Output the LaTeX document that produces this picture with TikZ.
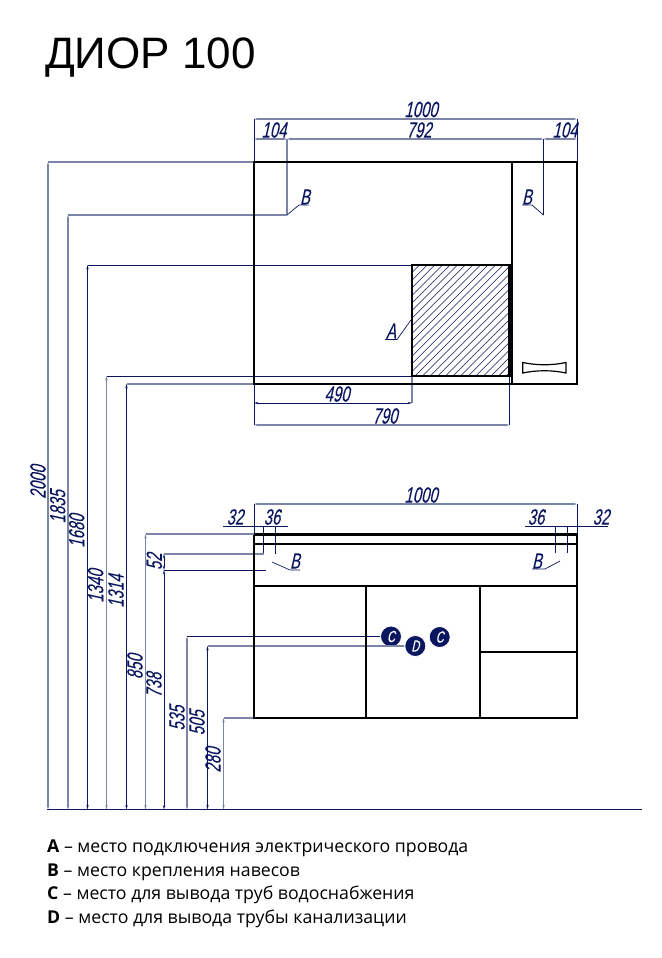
\documentclass[tikz,border=0pt]{standalone}
\usepackage{fontspec}
\setmainfont{Open Sans}
\newfontfamily\dimfont[FakeStretch=0.68,FakeSlant=0.22,FakeBold=0.08]{Liberation Sans}
\newfontfamily\titlefont{Liberation Sans}
\usetikzlibrary{arrows.meta}
\definecolor{navy}{HTML}{0B1660}
\definecolor{soft}{HTML}{7C85A8}
\tikzset{
  thinline/.style={draw=navy,line width=0.7pt},
  softline/.style={draw=soft,line width=1.1pt},
  dimboth/.style={{Stealth[length=4.5pt,width=2.4pt,fill=navy]}-{Stealth[length=4.5pt,width=2.4pt,fill=navy]}},
  body/.style={draw=black,line width=2.7pt,line cap=rect},
  bodythin/.style={draw=black,line width=2.2pt},
  dimlabel/.style={text=navy,font=\dimfont\fontsize{22}{22}\selectfont,inner sep=0pt},
  vlabel/.style={dimlabel,rotate=90},
  ball/.style={circle,fill=navy,draw=white,line width=0.8pt,minimum size=21pt,inner sep=0pt,text=white,font=\dimfont\fontsize{16}{16}\selectfont},
  legend/.style={anchor=base west,inner sep=0pt,text=black,font=\fontsize{17.7}{18}\selectfont}
}
\begin{document}
\begin{tikzpicture}[x=1pt,y=-1pt]
\useasboundingbox (0,0) rectangle (661,958);
\fill[white] (0,0) rectangle (661,958);

% --- named reference points
\coordinate (tl) at (254,162); \coordinate (tr) at (577,162);
\coordinate (bl) at (254,384); \coordinate (br) at (577,384);
\coordinate (hA) at (412,265); \coordinate (hB) at (509.5,376);
\coordinate (b1) at (287,215); \coordinate (b2) at (543.5,215);

% --- hatch
\begin{scope}
\clip (hA) rectangle (hB);
\foreach \c in {677,684.6,...,890}{
  \draw[draw=navy,line width=0.55pt] (\c-265,265) -- (\c-376,376);
}
\end{scope}

% --- top dimensions
\coordinate (d1l) at (254,119); \coordinate (d1r) at (577,119);
\coordinate (d2l) at (254,139); \coordinate (d2a) at (287,139);
\coordinate (d2b) at (543.5,139); \coordinate (d2r) at (577,139);
\draw[thinline] (d1l) -- (tl);
\draw[thinline] (d1r) -- (tr);
\draw[softline,dimboth] (d1l) -- (d1r);
\draw[softline,dimboth] (d2l) -- (d2a);
\draw[softline,dimboth] (d2a) -- (d2b);
\draw[softline,dimboth] (d2b) -- (d2r);
\draw[softline] (d2a) -- (b1);
\draw[thinline] (d2b) -- (b2);
\node[dimlabel] (t1000) at (421,109.5) {1000};
\node[dimlabel] (t104a) at (274,130) {104};
\node[dimlabel] (t792) at (419,130) {792};
\node[dimlabel] (t104b) at (565,130) {104};

% leaders B top
\node[dimlabel] (lb1) at (305,197) {B};
\node[dimlabel] (lb2) at (527,197) {B};
\draw[thinline] (b1) -- (299,205) -- (309,205);
\draw[thinline] (b2) -- (532,205) -- (522,205);

% leader A
\node[dimlabel] (la) at (391,331) {A};
\draw[thinline] (411,320) -- (397,339.5) -- (385,339.5);

% below-cabinet dims
\coordinate (e490) at (412,403); \coordinate (e790) at (509.5,425);
\coordinate (s490) at (254,403); \coordinate (s790) at (254,425);
\draw[thinline] (bl) -- (s790);
\draw[softline] (412,376) -- (e490);
\draw[thinline] (509.5,376) -- (e790);
\draw[thinline,dimboth] (s490) -- (e490);
\draw[softline,dimboth] (s790) -- (e790);
\node[dimlabel] (t490) at (337,394) {490};
\node[dimlabel] (t790) at (385,416) {790};

% --- bottom unit dims
\coordinate (u1l) at (254,504); \coordinate (u1r) at (577,504);
\draw[thinline] (u1l) -- (254,534);
\draw[thinline] (u1r) -- (577,534);
\draw[softline,dimboth] (u1l) -- (u1r);
\node[dimlabel] (t1000b) at (421,495) {1000};

\coordinate (pa) at (263.7,526); \coordinate (pb) at (275.3,526);
\coordinate (pc) at (555,526); \coordinate (pd) at (567,526);
\draw[thinline] (223,526) -- (288,526);
\draw[thinline] (pa) -- (263.7,554);
\draw[thinline] (pb) -- (275.3,554);
\draw[thinline] (525,526) -- (608,526);
\draw[thinline] (pc) -- (555,553);
\draw[thinline] (pd) -- (567,553);
\node[dimlabel] (t32l) at (235,517) {32};
\node[dimlabel] (t36l) at (272,517) {36};
\node[dimlabel] (t36r) at (536,517) {36};
\node[dimlabel] (t32r) at (601,517) {32};

\node[dimlabel] (lb3) at (295,561) {B};
\node[dimlabel] (lb4) at (537,561) {B};
\draw[thinline] (272,562) -- (290,570) -- (300,570);
\draw[thinline] (560,561) -- (545,569) -- (532,569);

% --- balls
\node[ball] (c1) at (391,636.5) {C};
\node[ball] (c2) at (439.7,637) {C};
\node[ball] (d1) at (415.3,646) {D};

% --- height dimensions
\coordinate (g) at (47,809.5); \coordinate (ge) at (642,809.5);
\draw[line width=0.9pt,draw=navy] (g) -- (ge);
\coordinate (h1) at (48,162);   \coordinate (h1b) at (48,809.5);
\coordinate (h2) at (68,215);   \coordinate (h2b) at (68,809.5);
\coordinate (h3) at (87.5,265); \coordinate (h3b) at (87.5,809.5);
\coordinate (h4) at (106.5,376);\coordinate (h4b) at (106.5,809.5);
\coordinate (h5) at (126.5,384);\coordinate (h5b) at (126.5,809.5);
\coordinate (h6) at (145.5,534);\coordinate (h6b) at (145.5,809.5);
\coordinate (h7) at (164,554);  \coordinate (h7b) at (164,570);
\coordinate (h8b) at (164,809.5);
\coordinate (h9) at (187,636.5);\coordinate (h9b) at (187,809.5);
\coordinate (h10) at (207.5,646);\coordinate (h10b) at (207.5,809.5);
\coordinate (h11) at (223.5,718);\coordinate (h11b) at (223.5,809.5);

\draw[softline] (h1) -- (tl);
\draw[softline] (h2) -- (b1);
\draw[thinline] (h3) -- (hA);
\draw[thinline] (h4) -- (412,376);
\draw[softline] (h5) -- (bl);
\draw[softline] (h6) -- (254,534);
\draw[softline] (h7) -- (263.7,554);
\draw[thinline] (h7b) -- (266,570);
\draw[thinline] (h9) -- (c1.west);
\draw[softline] (h10) -- (d1.west);
\draw[softline] (h11) -- (254,718);

\draw[softline,dimboth] (h1) -- (h1b);
\draw[softline,dimboth] (h2) -- (h2b);
\draw[thinline,dimboth] (h3) -- (h3b);
\draw[softline,dimboth] (h4) -- (h4b);
\draw[thinline,dimboth] (h5) -- (h5b);
\draw[softline,dimboth] (h6) -- (h6b);
\draw[thinline,dimboth] (h7) -- (h7b);
\draw[thinline,dimboth] (h7b) -- (h8b);
\draw[softline,dimboth] (h9) -- (h9b);
\draw[thinline,dimboth] (h10) -- (h10b);
\draw[softline,dimboth] (h11) -- (h11b);

\node[vlabel] (v2000) at (38,482) {2000};
\node[vlabel] (v1835) at (57.7,506.7) {1835};
\node[vlabel] (v1680) at (76.7,531) {1680};
\node[vlabel] (v1340) at (95.7,586) {1340};
\node[vlabel] (v1314) at (116,591) {1314};
\node[vlabel] (v850) at (135,666.7) {850};
\node[vlabel] (v738) at (154,685) {738};
\node[vlabel] (v52) at (154.3,561.7) {52};
\node[vlabel] (v535) at (177,718) {535};
\node[vlabel] (v505) at (197,722.7) {505};
\node[vlabel] (v280) at (213,760) {280};

% --- top cabinet outlines
\draw[body] (tl) rectangle (br);
\draw[body] (512,162) -- (512,384);
\draw[body,line width=2.4pt] (hA) rectangle (hB);
\draw[draw=black,line width=1.2pt] (522.7,362.5) .. controls (537,365.5) and (552,365.5) .. (566,362.5) -- (566,373) .. controls (552,370) and (537,370) .. (522.7,373) -- cycle;

% --- bottom unit outlines
\draw[bodythin] (254,534.5) -- (577,534.5) -- (577,544) (254,534.5) -- (254,544);
\draw[body] (254,544) -- (577,544);
\draw[body] (254,544) -- (254,718) -- (577,718) -- (577,544);
\draw[body] (254,586) -- (577,586);
\draw[body] (366,586) -- (366,718);
\draw[body] (480,586) -- (480,718);
\draw[body] (480,652) -- (577,652);

% --- title and legend
\node[anchor=base west,inner sep=0pt,font=\titlefont\fontsize{44}{44}\selectfont] (title) at (45,69) {ДИОР 100};
\node[legend] (l1) at (47,852) {\textbf{A} – место подключения электрического провода};
\node[legend] (l2) at (47,876) {\textbf{B} – место крепления навесов};
\node[legend] (l3) at (47,899) {\textbf{C} – место для вывода труб водоснабжения};
\node[legend] (l4) at (47,923) {\textbf{D} – место для вывода трубы канализации};
\end{tikzpicture}
\end{document}
